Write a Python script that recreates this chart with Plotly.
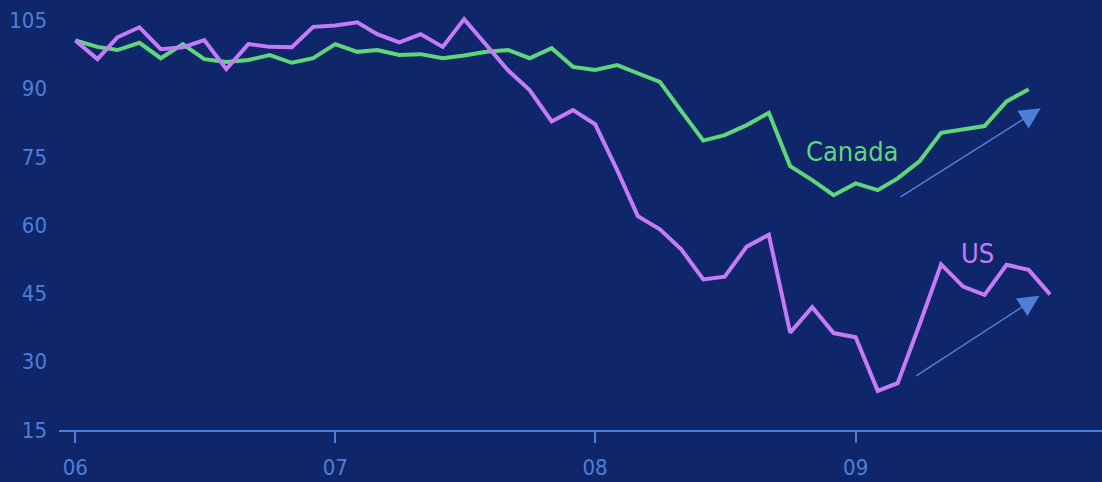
import pandas as pd
import plotly.graph_objects as go

# monthly index values, Jan 2006 = ~100
us_values = [100.6, 96.5, 101.3, 103.5, 98.7, 99.1, 100.7, 94.3, 99.8, 99.2,
             99.1, 103.6, 103.9, 104.6, 102.0, 100.2, 102.0, 99.2, 105.3, 99.6,
             94.0, 89.7, 82.8, 85.3, 82.2, 72.1, 62.0, 59.1, 54.7, 48.1,
             48.7, 55.3, 57.9, 36.4, 42.0, 36.3, 35.4, 23.6, 25.3, 38.3,
             51.4, 46.5, 44.7, 51.3, 50.2, 44.8]
canada_values = [100.6, 99.2, 98.5, 100.1, 96.7, 99.8, 96.5, 95.9, 96.3, 97.4,
                 95.7, 96.7, 99.8, 98.1, 98.5, 97.4, 97.6, 96.7, 97.3, 98.1,
                 98.5, 96.7, 98.9, 94.8, 94.1, 95.2, 93.4, 91.5, 85.1, 78.6,
                 79.8, 82.0, 84.7, 73.0, 69.9, 66.6, 69.2, 67.7, 70.3, 74.1,
                 80.3, 81.0, 81.8, 87.2, 89.9]
us_dates = pd.date_range("2006-01-01", periods=len(us_values), freq="MS")
canada_dates = pd.date_range("2006-01-01", periods=len(canada_values), freq="MS")

y_ticks = [15, 30, 45, 60, 75, 90, 105]
x_ticks = ["2006-01-01", "2007-01-01", "2008-01-01", "2009-01-01"]

us_color = "#c47cf6"
canada_color = "#5fd67a"
axis_color = "#4d7fd8"
bg_color = "#10266a"
font_family = "DejaVu Sans Condensed, DejaVu Sans, sans-serif"

fig = go.Figure()
fig.add_trace(go.Scatter(x=canada_dates, y=canada_values, mode="lines", name="Canada",
                         line=dict(color=canada_color, width=4)))
fig.add_trace(go.Scatter(x=us_dates, y=us_values, mode="lines", name="US",
                         line=dict(color=us_color, width=4)))

# labels
fig.add_annotation(x="2008-12-27", y=76.3, text="Canada", showarrow=False,
                   font=dict(color=canada_color, size=27, family=font_family))
fig.add_annotation(x="2009-06-21", y=53.7, text="US", showarrow=False,
                   font=dict(color=us_color, size=27, family=font_family))

# trend arrows
for tail, tip in [(("2009-03-03", 66.0), ("2009-09-18", 85.7)),
                  (("2009-03-25", 26.7), ("2009-09-16", 44.5))]:
    fig.add_annotation(x=tip[0], y=tip[1], ax=tail[0], ay=tail[1],
                       xref="x", yref="y", axref="x", ayref="y",
                       text="", showarrow=True, arrowhead=2, arrowsize=2.8,
                       arrowwidth=1.5, arrowcolor=axis_color)

fig.update_layout(
    width=1102, height=482,
    paper_bgcolor=bg_color, plot_bgcolor=bg_color,
    showlegend=False,
    margin=dict(l=59, r=0, t=10, b=52),
    font=dict(family=font_family, color=axis_color, size=22),
    xaxis=dict(
        type="date", range=["2005-12-09", "2009-12-13"],
        tickvals=x_ticks, tickformat="%y",
        showgrid=False, zeroline=False,
        showline=True, linecolor=axis_color, linewidth=2,
        ticks="outside", ticklen=11, tickwidth=1.5, tickcolor=axis_color,
        ticklabelstandoff=6,
    ),
    yaxis=dict(
        range=[15, 107.3], tickvals=y_ticks,
        showgrid=False, zeroline=False, showline=False,
        ticklabelstandoff=11,
    ),
)

fig.write_html(
    "out.html",
    config={"displayModeBar": False},
    post_script="document.body.style.margin='0';document.body.style.background='%s';" % bg_color,
)
